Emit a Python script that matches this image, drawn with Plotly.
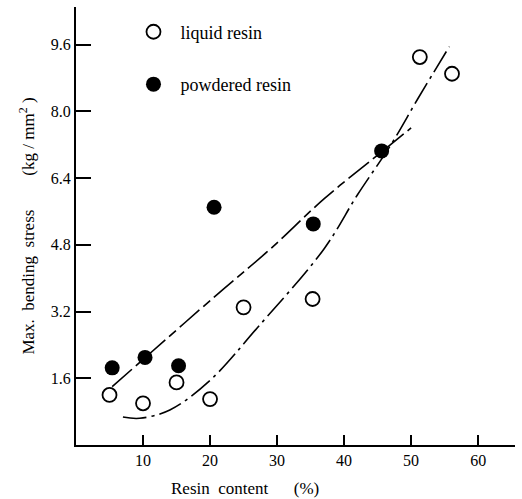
import plotly.graph_objects as go

# Data
liquid_x = [5, 10, 15, 20, 25, 35.3, 51.3, 56.1]
liquid_y = [1.2, 1.0, 1.5, 1.1, 3.3, 3.5, 9.3, 8.9]

powder_x = [5.4, 10.3, 15.3, 20.6, 35.4, 45.6]
powder_y = [1.85, 2.1, 1.9, 5.7, 5.3, 7.05]

# hand-drawn trend curves
curveA_x = [5.4, 10, 21, 29, 37, 45, 50]
curveA_y = [1.4, 2.05, 3.6, 4.7, 5.9, 6.95, 7.6]

curveB_x = [7, 9.5, 14, 20, 27, 37, 42, 47, 51, 55.7]
curveB_y = [0.67, 0.64, 0.84, 1.55, 2.8, 4.7, 6.0, 7.2, 8.3, 9.55]

x_ticks = [10, 20, 30, 40, 50, 60]
y_ticks = [1.6, 3.2, 4.8, 6.4, 8.0, 9.6]

FONT = "Liberation Serif"

fig = go.Figure()
fig.add_trace(go.Scatter(x=curveA_x, y=curveA_y, mode="lines", line_shape="spline",
                         line=dict(color="black", width=1.6, dash="26px,5px,9px,5px"),
                         showlegend=False, hoverinfo="skip"))
fig.add_trace(go.Scatter(x=curveB_x, y=curveB_y, mode="lines", line_shape="spline",
                         line=dict(color="black", width=1.6, dash="24px,5px,3px,5px"),
                         showlegend=False, hoverinfo="skip"))
fig.add_trace(go.Scatter(x=liquid_x, y=liquid_y, mode="markers", name="liquid resin",
                         legendgroup="a",
                         marker=dict(symbol="circle-open", size=14, color="black",
                                     line=dict(width=1.8, color="black"))))
fig.add_trace(go.Scatter(x=powder_x, y=powder_y, mode="markers", name="powdered resin",
                         legendgroup="b",
                         marker=dict(symbol="circle", size=15, color="black")))

fig.update_layout(
    width=522, height=499,
    margin=dict(l=76, r=7, t=7, b=54),
    paper_bgcolor="white", plot_bgcolor="white",
    font=dict(family=FONT, size=16, color="black"),
    showlegend=True,
    legend=dict(x=0.115, y=0.985, xanchor="left", yanchor="top",
                bgcolor="rgba(0,0,0,0)", tracegroupgap=26, itemwidth=44,
                font=dict(family=FONT, size=18)),
    xaxis=dict(range=[0, 65.5], tickvals=x_ticks, ticks="inside", ticklen=10,
               tickwidth=2, showgrid=False, zeroline=False, showline=True,
               linecolor="black", linewidth=2, tickcolor="black",
               tickfont=dict(family=FONT, size=16)),
    yaxis=dict(range=[0, 10.5], tickvals=y_ticks, tickformat=".1f", ticks="inside",
               ticklen=15, tickwidth=2, showgrid=False, zeroline=False, showline=True,
               linecolor="black", linewidth=2, tickcolor="black",
               tickfont=dict(family=FONT, size=16),
               title=dict(text="Max.  bending  stress        (kg / mm<sup>2</sup> )",
                          font=dict(family=FONT, size=17), standoff=12)),
)

fig.add_annotation(text="Resin  content      (%)", xref="paper", yref="paper",
                   x=(245 - 76) / 439, y=-0.1, xanchor="center", yanchor="middle",
                   showarrow=False, font=dict(family=FONT, size=17))

fig.write_html("out.html")
